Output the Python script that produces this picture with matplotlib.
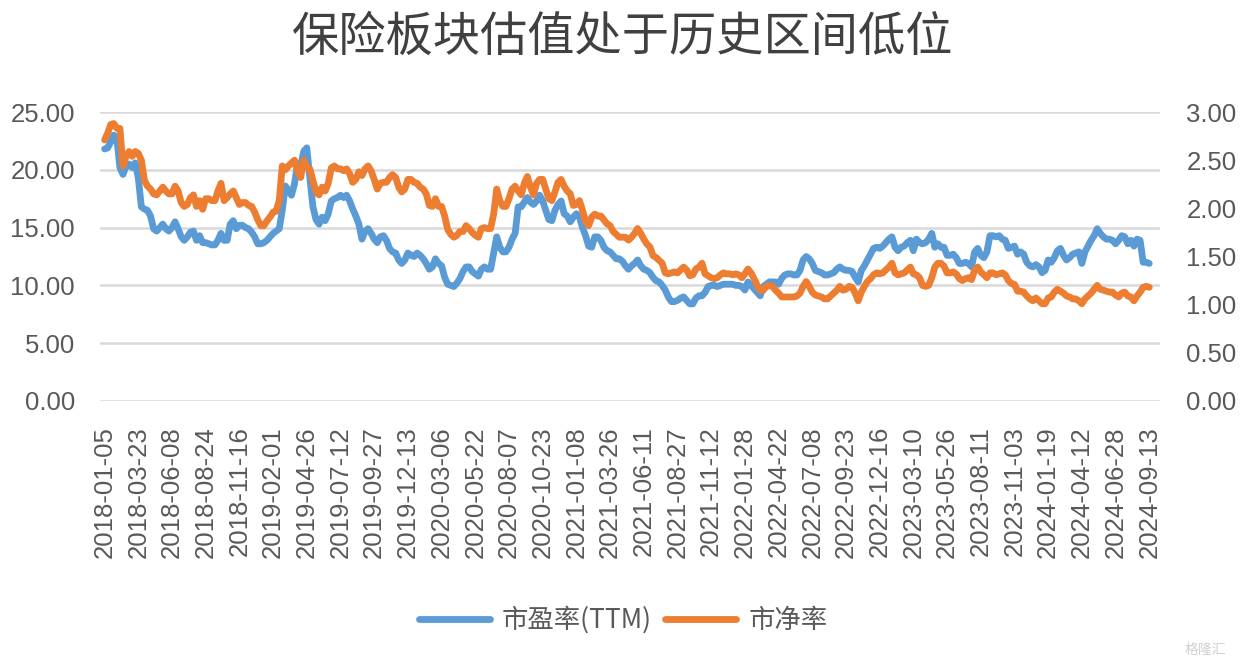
import matplotlib
matplotlib.use("Agg")
import matplotlib.pyplot as plt
import numpy as np

# weekly PE(TTM) of the insurance sector, left axis
pe_ttm = [
    21.8, 21.9, 22.4, 23.0, 22.7, 20.2, 19.6, 20.3, 20.5, 20.2, 20.6, 19.3, 16.8, 16.6, 16.5, 16.0,
    14.9, 14.7, 15.0, 15.3, 14.9, 14.7, 15.0, 15.5, 14.9, 14.2, 13.9, 14.2, 14.6, 14.7, 13.9, 14.3,
    13.7, 13.7, 13.6, 13.5, 13.5, 13.9, 14.5, 13.9, 13.9, 15.3, 15.6, 14.9, 15.2, 15.2, 15.0, 14.9,
    14.6, 14.2, 13.6, 13.6, 13.7, 13.9, 14.2, 14.5, 14.7, 14.9, 16.5, 18.6, 18.2, 17.8, 18.8, 20.5,
    20.3, 21.6, 21.9, 19.3, 16.8, 15.7, 15.3, 15.9, 15.6, 16.2, 17.3, 17.5, 17.6, 17.8, 17.6, 17.8,
    17.3, 16.6, 16.0, 15.3, 14.0, 14.7, 14.9, 14.5, 14.0, 13.7, 14.2, 14.3, 13.9, 13.2, 12.9, 12.8,
    12.2, 11.9, 12.2, 12.8, 12.6, 12.5, 12.8, 12.6, 12.3, 11.9, 11.4, 11.6, 12.3, 11.9, 11.7, 10.7,
    10.1, 10.0, 9.9, 10.2, 10.6, 11.2, 11.6, 11.6, 11.2, 11.0, 10.8, 11.4, 11.6, 11.4, 11.4, 12.8,
    14.2, 13.3, 12.9, 12.9, 13.3, 14.0, 14.5, 16.8, 16.8, 17.2, 17.6, 17.2, 17.0, 17.3, 17.8, 17.3,
    16.5, 15.7, 15.6, 16.5, 17.0, 17.3, 16.2, 16.0, 15.5, 15.9, 16.2, 15.9, 15.0, 14.3, 13.4, 13.3,
    14.2, 14.2, 13.9, 13.3, 13.0, 12.9, 12.6, 12.3, 12.3, 12.1, 11.7, 11.4, 11.7, 11.9, 12.2, 11.7,
    11.4, 11.3, 11.1, 10.7, 10.4, 10.3, 10.0, 9.6, 9.0, 8.6, 8.6, 8.7, 8.9, 9.0, 8.7, 8.4,
    8.4, 8.9, 9.1, 9.1, 9.4, 9.9, 10.0, 10.0, 9.9, 10.0, 10.1, 10.1, 10.1, 10.1, 10.0, 10.0,
    9.9, 9.6, 10.3, 10.0, 9.7, 9.4, 9.1, 9.9, 10.1, 10.3, 10.3, 10.3, 10.1, 10.6, 10.9, 11.0,
    11.0, 10.9, 10.9, 11.3, 12.2, 12.5, 12.3, 11.9, 11.3, 11.2, 11.1, 10.9, 10.9, 11.0, 11.1, 11.4,
    11.6, 11.4, 11.3, 11.3, 11.2, 10.7, 10.3, 11.3, 11.7, 12.2, 12.7, 13.2, 13.3, 13.2, 13.4, 13.7,
    14.0, 14.2, 13.3, 13.0, 13.3, 13.4, 13.7, 13.9, 13.0, 14.0, 13.7, 13.6, 13.7, 14.0, 14.5, 13.3,
    13.6, 13.3, 13.3, 12.6, 12.6, 12.7, 12.4, 11.9, 11.9, 12.0, 11.9, 11.6, 12.9, 13.2, 12.6, 12.4,
    12.9, 14.3, 14.3, 14.2, 14.3, 14.0, 13.9, 13.2, 13.3, 13.4, 12.7, 12.9, 12.7, 12.0, 11.7, 11.6,
    11.8, 11.6, 11.1, 11.3, 12.2, 12.0, 12.4, 13.0, 13.2, 12.6, 12.2, 12.4, 12.7, 12.8, 12.9, 11.9,
    12.9, 13.4, 13.9, 14.3, 14.9, 14.5, 14.2, 14.0, 14.0, 13.9, 13.6, 13.9, 14.3, 14.2, 13.6, 13.9,
    13.4, 14.0, 13.9, 12.0, 12.0, 11.9,
]

# weekly PB of the insurance sector, right axis
pb = [
    2.71, 2.78, 2.87, 2.88, 2.83, 2.83, 2.44, 2.54, 2.59, 2.54, 2.59, 2.57, 2.50, 2.29, 2.23, 2.20,
    2.15, 2.14, 2.18, 2.22, 2.18, 2.15, 2.15, 2.23, 2.18, 2.06, 2.02, 2.04, 2.11, 2.14, 2.02, 2.08,
    1.99, 2.10, 2.10, 2.08, 2.08, 2.18, 2.26, 2.08, 2.11, 2.15, 2.18, 2.11, 2.04, 2.06, 2.06, 2.03,
    2.02, 1.96, 1.88, 1.82, 1.82, 1.87, 1.91, 1.96, 1.97, 2.08, 2.44, 2.40, 2.44, 2.47, 2.50, 2.38,
    2.32, 2.50, 2.42, 2.41, 2.29, 2.17, 2.14, 2.22, 2.18, 2.26, 2.42, 2.44, 2.41, 2.41, 2.39, 2.41,
    2.36, 2.27, 2.30, 2.38, 2.34, 2.41, 2.44, 2.39, 2.30, 2.20, 2.26, 2.27, 2.27, 2.32, 2.35, 2.32,
    2.22, 2.17, 2.20, 2.30, 2.30, 2.27, 2.26, 2.22, 2.20, 2.15, 2.03, 2.02, 2.10, 2.02, 2.02, 1.92,
    1.78, 1.73, 1.70, 1.72, 1.76, 1.76, 1.82, 1.79, 1.75, 1.72, 1.70, 1.79, 1.80, 1.79, 1.79, 1.94,
    2.20, 2.08, 2.02, 2.02, 2.10, 2.20, 2.23, 2.18, 2.14, 2.26, 2.33, 2.22, 2.14, 2.26, 2.30, 2.30,
    2.20, 2.10, 2.08, 2.17, 2.27, 2.30, 2.23, 2.18, 2.15, 2.03, 2.04, 2.08, 1.98, 1.86, 1.82, 1.91,
    1.94, 1.92, 1.92, 1.88, 1.84, 1.82, 1.76, 1.73, 1.70, 1.70, 1.70, 1.67, 1.70, 1.74, 1.79, 1.74,
    1.68, 1.63, 1.60, 1.51, 1.49, 1.46, 1.43, 1.33, 1.32, 1.33, 1.34, 1.33, 1.36, 1.39, 1.36, 1.30,
    1.31, 1.37, 1.39, 1.43, 1.32, 1.30, 1.28, 1.27, 1.28, 1.31, 1.33, 1.32, 1.32, 1.31, 1.32, 1.31,
    1.28, 1.32, 1.37, 1.33, 1.27, 1.20, 1.15, 1.15, 1.19, 1.20, 1.19, 1.15, 1.12, 1.08, 1.08, 1.08,
    1.08, 1.08, 1.09, 1.12, 1.19, 1.24, 1.19, 1.13, 1.10, 1.09, 1.08, 1.06, 1.06, 1.09, 1.12, 1.15,
    1.19, 1.15, 1.16, 1.19, 1.18, 1.12, 1.04, 1.13, 1.19, 1.24, 1.27, 1.31, 1.33, 1.32, 1.33, 1.36,
    1.39, 1.43, 1.33, 1.31, 1.32, 1.33, 1.36, 1.39, 1.32, 1.31, 1.28, 1.20, 1.19, 1.20, 1.28, 1.39,
    1.43, 1.43, 1.40, 1.33, 1.33, 1.34, 1.32, 1.27, 1.25, 1.27, 1.28, 1.26, 1.36, 1.39, 1.34, 1.31,
    1.28, 1.33, 1.33, 1.31, 1.32, 1.33, 1.31, 1.25, 1.22, 1.21, 1.14, 1.14, 1.13, 1.09, 1.06, 1.04,
    1.07, 1.04, 1.01, 1.01, 1.07, 1.08, 1.13, 1.16, 1.14, 1.12, 1.09, 1.08, 1.06, 1.06, 1.04, 1.01,
    1.06, 1.09, 1.12, 1.16, 1.20, 1.16, 1.15, 1.14, 1.13, 1.13, 1.10, 1.08, 1.12, 1.13, 1.09, 1.08,
    1.04, 1.09, 1.13, 1.18, 1.19, 1.18,
]

# category labels shown on the x axis (every 11th week)
date_labels = [
    "2018-01-05", "2018-03-23", "2018-06-08", "2018-08-24", "2018-11-16", "2019-02-01",
    "2019-04-26", "2019-07-12", "2019-09-27", "2019-12-13", "2020-03-06", "2020-05-22",
    "2020-08-07", "2020-10-23", "2021-01-08", "2021-03-26", "2021-06-11", "2021-08-27",
    "2021-11-12", "2022-01-28", "2022-04-22", "2022-07-08", "2022-09-23", "2022-12-16",
    "2023-03-10", "2023-05-26", "2023-08-11", "2023-11-03", "2024-01-19", "2024-04-12",
    "2024-06-28", "2024-09-13",
]
label_step = 11

BLUE = "#5B9BD5"
ORANGE = "#ED7D31"
TEXT = "#595959"
GRID = "#D9D9D9"
CJK = ["Noto Sans CJK SC", "DejaVu Sans"]
NUM = ["Liberation Sans", "DejaVu Sans"]

fig = plt.figure(figsize=(12.46, 6.69), dpi=100)
ax = fig.add_axes([100 / 1246, 1 - 401 / 669, 1060 / 1246, 289 / 669])
ax2 = ax.twinx()

x = np.arange(len(pe_ttm))
l1, = ax.plot(x, pe_ttm, color=BLUE, lw=4.9, solid_joinstyle="round", solid_capstyle="round",
              label="市盈率(TTM)", zorder=3)
l2, = ax2.plot(x, pb, color=ORANGE, lw=4.9, solid_joinstyle="round", solid_capstyle="round",
               label="市净率", zorder=3)

ax.set_xlim(-1.5, 344.5)
ax.set_ylim(0, 25)
ax2.set_ylim(0, 3)
ax.set_yticks(np.arange(0, 25.1, 5))
ax2.set_yticks(np.arange(0, 3.01, 0.5))
ax.set_yticklabels([f"{v:.2f}" for v in np.arange(0, 25.1, 5)], fontsize=18.5, color=TEXT, family=NUM)
ax2.set_yticklabels([f"{v:.2f}" for v in np.arange(0, 3.01, 0.5)], fontsize=18.5, color=TEXT, family=NUM)

ticks = [k * label_step for k in range(len(date_labels))]
ax.set_xticks(ticks)
ax.set_xticklabels(date_labels, rotation=90, fontsize=18.5, color=TEXT, family=NUM)

ax.grid(axis="y", color=GRID, lw=1.8)
ax.set_axisbelow(True)
for a in (ax, ax2):
    for s in a.spines.values():
        s.set_visible(False)
    a.tick_params(length=0)
ax.tick_params(axis="y", pad=18)
ax2.tick_params(axis="y", pad=19)
ax.tick_params(axis="x", pad=18)

fig.text(0.5, 1 - 38 / 669, "保险板块估值处于历史区间低位", ha="center", va="center",
         fontsize=34, color="#404040", family=CJK)

fig.legend(handles=[l1, l2], loc="center", bbox_to_anchor=(0.5, 1 - 620 / 669), ncol=2,
           frameon=False, prop={"family": CJK, "size": 19}, labelcolor=TEXT,
           handlelength=2.7, handletextpad=0.45, columnspacing=0.5)

fig.text(1205 / 1246, 1 - 650 / 669, "格隆汇", ha="center", va="center", fontsize=10,
         color="#D0D0D0", family=CJK)

fig.savefig("out.png", dpi=100)
